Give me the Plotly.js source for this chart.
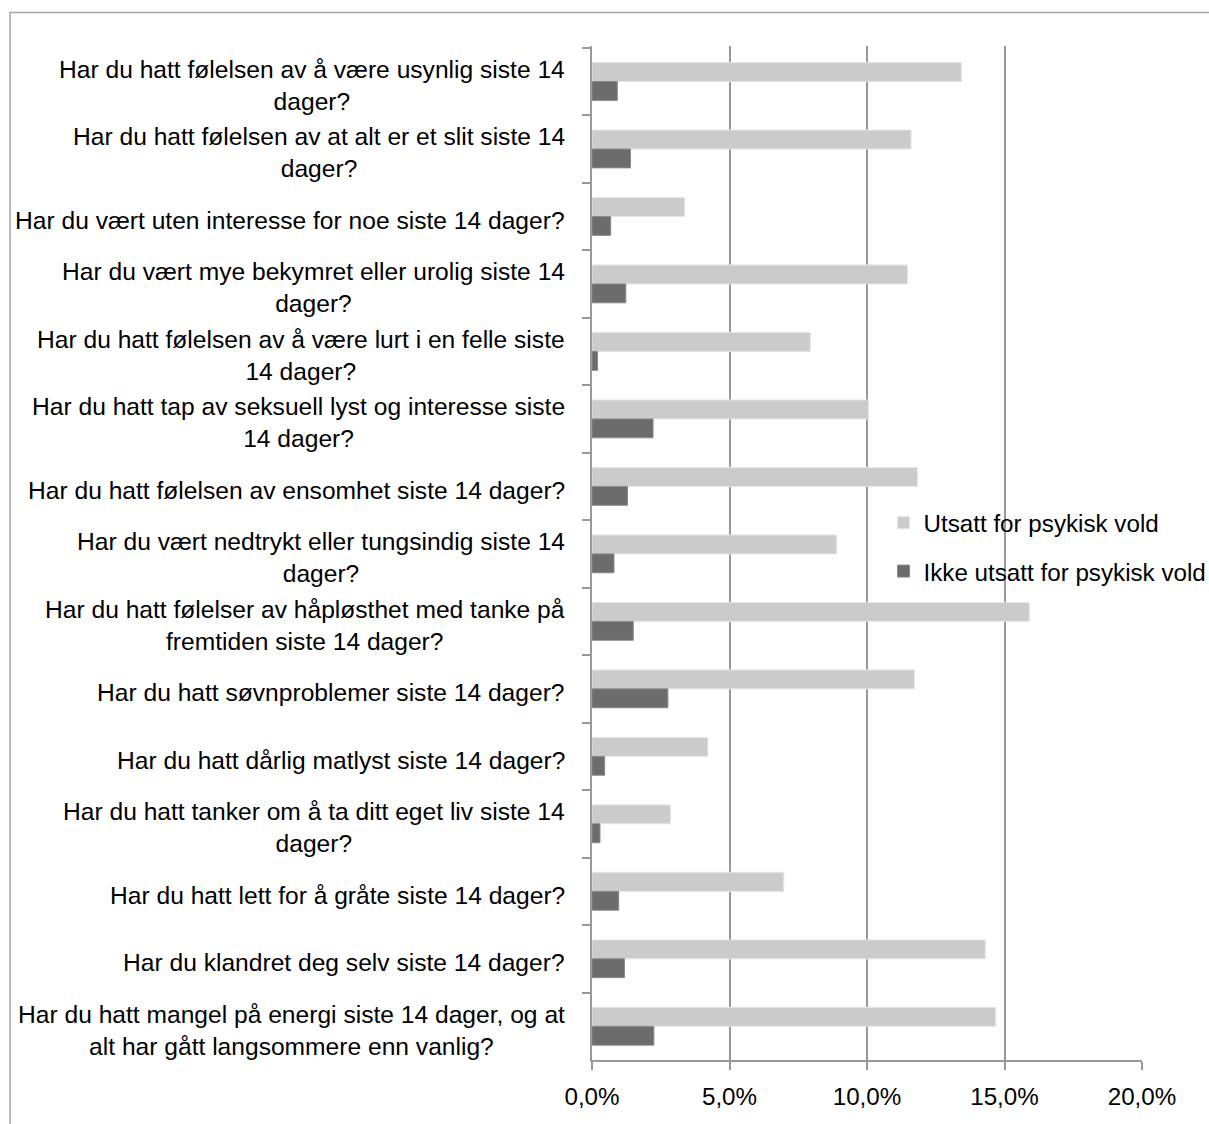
<!DOCTYPE html>
<html>
<head>
<meta charset="utf-8">
<script src="https://cdn.plot.ly/plotly-3.0.1.min.js"></script>
<style>
html,body{margin:0;padding:0;background:#fff;}
#chart{width:1209px;height:1124px;}
</style>
</head>
<body>
<div id="chart"></div>
<script>
const categories = [
  "Har du hatt følelsen av å være usynlig siste 14<br>dager?",
  "Har du hatt følelsen av at alt er et slit siste 14<br>dager?",
  "Har du vært uten interesse for noe siste 14 dager?",
  "Har du vært mye bekymret eller urolig siste 14<br>dager?",
  "Har du hatt følelsen av å være lurt i en felle siste<br>14 dager?",
  "Har du hatt tap av seksuell lyst og interesse siste<br>14 dager?",
  "Har du hatt følelsen av ensomhet siste 14 dager?",
  "Har du vært nedtrykt eller tungsindig siste 14<br>dager?",
  "Har du hatt følelser av håpløsthet med tanke på<br>fremtiden siste 14 dager?",
  "Har du hatt søvnproblemer siste 14 dager?",
  "Har du hatt dårlig matlyst siste 14 dager?",
  "Har du hatt tanker om å ta ditt eget liv siste 14<br>dager?",
  "Har du hatt lett for å gråte siste 14 dager?",
  "Har du klandret deg selv siste 14 dager?",
  "Har du hatt mangel på energi siste 14 dager, og at<br>alt har gått langsommere enn vanlig?"
];
const seriesNames = ["Utsatt for psykisk vold", "Ikke utsatt for psykisk vold"];
const utsatt =      [13.43, 11.60, 3.37, 11.47, 7.94, 10.05, 11.83, 8.89, 15.90, 11.72, 4.21, 2.85, 6.97, 14.30, 14.68];
const ikkeUtsatt =  [0.92, 1.40, 0.68, 1.23, 0.20, 2.22, 1.29, 0.80, 1.50, 2.76, 0.46, 0.29, 0.97, 1.18, 2.25];
const xTicks = [0, 5, 10, 15, 20];
const xTickLabels = ["0,0%", "5,0%", "10,0%", "15,0%", "20,0%"];

const FONT = "Liberation Sans, Arial, sans-serif";
const FS = 24.2;
const FS_LAB = 24.6;
const GRID = "#999999";

const traces = [
  {
    type: "bar", orientation: "h", name: seriesNames[0], legendgroup: "a",
    y: categories, x: utsatt,
    marker: {color: "#cbcbcb", line: {color: "#e4e4e4", width: 1}},
    hoverinfo: "x"
  },
  {
    type: "bar", orientation: "h", name: seriesNames[1], legendgroup: "b",
    y: categories, x: ikkeUtsatt,
    marker: {color: "#6c6c6c", line: {color: "#8a8a8a", width: 1}},
    hoverinfo: "x"
  }
];

const annotations = categories.map(c => ({
  xref: "paper", yref: "y", x: -0.046, y: c, yshift: -4,
  text: c, showarrow: false, xanchor: "right", yanchor: "middle",
  align: "center", font: {family: FONT, size: FS_LAB, color: "#000"}
}));

const layout = {
  width: 1209, height: 1124,
  margin: {l: 592, r: 67, t: 46, b: 64, autoexpand: false},
  paper_bgcolor: "#fff", plot_bgcolor: "#fff",
  barmode: "group", bargap: 0.44, bargroupgap: 0,
  font: {family: FONT, size: FS, color: "#000"},
  xaxis: {
    range: [0, 20], tickmode: "array", tickvals: xTicks, ticktext: xTickLabels,
    showgrid: true, gridcolor: GRID, gridwidth: 2,
    zeroline: false, showline: true, linecolor: GRID, linewidth: 2,
    ticks: "outside", ticklen: 8, tickcolor: GRID, tickwidth: 2,
    ticklabelstandoff: 6, automargin: false,
    tickfont: {family: FONT, size: FS, color: "#000"}, fixedrange: true
  },
  yaxis: {
    type: "category", autorange: "reversed", showticklabels: false,
    showgrid: false, zeroline: false, showline: true, linecolor: GRID, linewidth: 2,
    ticks: "outside", ticklen: 8, tickcolor: GRID, tickwidth: 2, tickson: "boundaries",
    automargin: false, fixedrange: true
  },
  legend: {
    x: 0.530, y: 0.506, xanchor: "left", yanchor: "middle",
    bgcolor: "rgba(0,0,0,0)", traceorder: "grouped", tracegroupgap: 14,
    font: {family: FONT, size: FS, color: "#000"}
  },
  annotations: annotations,
  shapes: [{
    type: "rect", xref: "paper", yref: "paper",
    x0: -1.058, x1: 2, y0: -1, y1: 1.033,
    line: {color: "#a6a6a6", width: 1.5}, fillcolor: "rgba(0,0,0,0)", layer: "below"
  }],
  showlegend: true
};

Plotly.newPlot("chart", traces, layout, {displayModeBar: false, staticPlot: true});
</script>
</body>
</html>
